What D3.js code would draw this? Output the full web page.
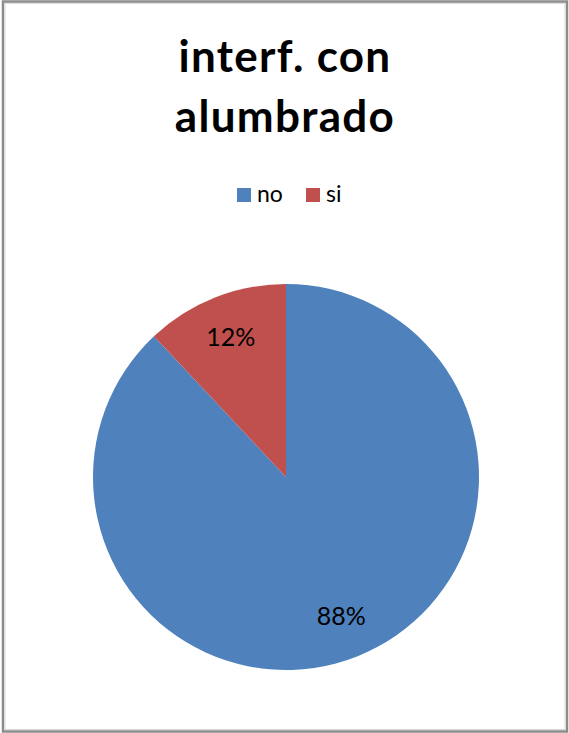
<!DOCTYPE html>
<html><head><meta charset="utf-8">
<script src="https://cdn.jsdelivr.net/npm/d3@7"></script>
<style>body{margin:0;background:#fff}svg{display:block}</style>
</head><body>
<svg id="c" width="569" height="733"></svg>
<script>
const categories = ["no", "si"];
const values = [88, 12];
const labels = ["88%", "12%"];
const colors = ["#4F81BD", "#C0504D"];
const titleLines = ["interf. con", "alumbrado"];

const svg = d3.select("#c");
const font = "Lato, 'Open Sans', sans-serif";

svg.append("rect").attr("x", 3).attr("y", 1.5).attr("width", 564).attr("height", 730)
  .attr("fill", "#fff").attr("stroke", "#8c8c8c").attr("stroke-width", 2.5);
svg.append("rect").attr("x", 5).attr("y", 3.5).attr("width", 560).attr("height", 726)
  .attr("fill", "none").attr("stroke", "#d9d9d9").attr("stroke-width", 1);

svg.selectAll("text.title").data(titleLines).enter().append("text")
  .attr("class", "title")
  .attr("x", 285).attr("y", (d, i) => 72 + i * 60)
  .attr("text-anchor", "middle")
  .attr("font-family", font).attr("font-weight", "bold").attr("font-size", 44)
  .attr("letter-spacing", 1.3)
  .attr("fill", "#000").text(d => d);

// legend
const leg = svg.append("g");
const legX = [237, 306];
categories.forEach((c, i) => {
  leg.append("rect").attr("x", legX[i]).attr("y", 188).attr("width", 14).attr("height", 14)
    .attr("fill", colors[i]);
  leg.append("text").attr("x", legX[i] + 20).attr("y", 202)
    .attr("font-family", font).attr("font-size", 23).attr("fill", "#000").text(c);
});

const cx = 286, cy = 477, r = 193;
const pie = d3.pie().sort(null).value(d => d)(values);
const arc = d3.arc().innerRadius(0).outerRadius(r);
const labelArc = d3.arc().innerRadius(150).outerRadius(150);
const g = svg.append("g").attr("transform", `translate(${cx},${cy})`);
g.selectAll("path").data(pie).enter().append("path")
  .attr("d", arc).attr("fill", (d, i) => colors[i]);
g.selectAll("text").data(pie).enter().append("text")
  .attr("transform", d => `translate(${labelArc.centroid(d)})`)
  .attr("text-anchor", "middle").attr("dy", "0.35em")
  .attr("font-family", font).attr("font-size", 25).attr("fill", "#000")
  .text((d, i) => labels[i]);
</script>
</body></html>
